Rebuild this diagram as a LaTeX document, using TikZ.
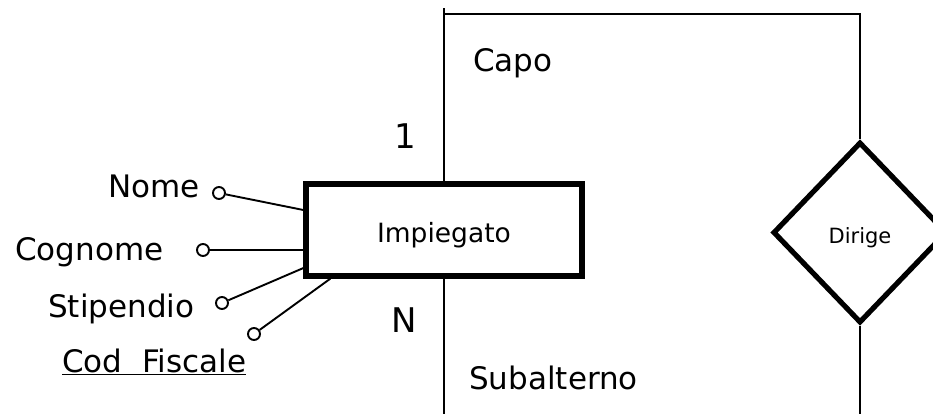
\documentclass[tikz,border=0pt]{standalone}
\usepackage{fontspec}
\setmainfont{DejaVu Sans}
\usetikzlibrary{shapes.geometric,calc}

\begin{document}
\begin{tikzpicture}[x=1pt,y=-1pt,
  entita/.style={draw,line width=5.2pt,rectangle,minimum width=276pt,minimum height=92pt,inner sep=0pt,text height=24pt,text depth=0pt,font=\fontsize{26.5}{30}\selectfont},
  relaz/.style={draw,line width=5.2pt,diamond,minimum width=174pt,minimum height=181pt,inner sep=0pt,text height=21pt,text depth=0pt,font=\fontsize{21}{25}\selectfont},
  attr/.style={draw,circle,line width=1.9pt,minimum size=12pt,inner sep=0pt},
  etich/.style={font=\fontsize{31}{36}\selectfont,inner sep=0pt},
  card/.style={font=\fontsize{34}{40}\selectfont,inner sep=0pt},
  linea/.style={line width=1.9pt}]

\clip (0,0) rectangle (933,413);

% entita e relazione
\node[entita] (imp) at (444,230) {Impiegato};
\node[relaz] (dir) at (860,232.5) {Dirige};

% anello Capo / Subalterno
\coordinate (capotop) at (444,8);
\coordinate (capoang) at (444,14);
\coordinate (dxalto) at (860,14);
\coordinate (subbasso) at (444,420);
\coordinate (dxbasso) at (860,420);
\draw[linea] (capotop) -- (imp.north);
\draw[linea] (capoang) -- (dxalto) -- (dir.north);
\draw[linea] (imp.south) -- (subbasso);
\draw[linea] (dir.south) -- (dxbasso);

\node[etich,anchor=base west] (capo) at (473,71) {Capo};
\node[etich,anchor=base west] (sub) at (469,389) {Subalterno};
\node[card,anchor=base] (uno) at (405,148) {1};
\node[card,anchor=base] (enne) at (404.5,332) {N};

% attributi
\node[attr] (cnome) at (219,193) {};
\node[attr] (ccogn) at (203,250) {};
\node[attr] (cstip) at (222,303) {};
\node[attr] (ccod) at (254,334) {};
\draw[linea] (cnome) -- ([yshift=20pt]imp.west);
\draw[linea] (ccogn) -- ([yshift=-20pt]imp.west);
\draw[linea] (cstip) -- ([yshift=-38pt]imp.west);
\draw[linea] (ccod) -- ([xshift=27pt]imp.south west);

\node[etich,anchor=base east] (nomet) at (200,197) {Nome};
\node[etich,anchor=base west] (cognt) at (15,260) {Cognome};
\node[etich,anchor=base west] (stipt) at (48,317) {Stipendio};
\node[etich,anchor=base west] (codt) at (62,372) {\underline{Cod\ \ Fiscale}};

\end{tikzpicture}
\end{document}
